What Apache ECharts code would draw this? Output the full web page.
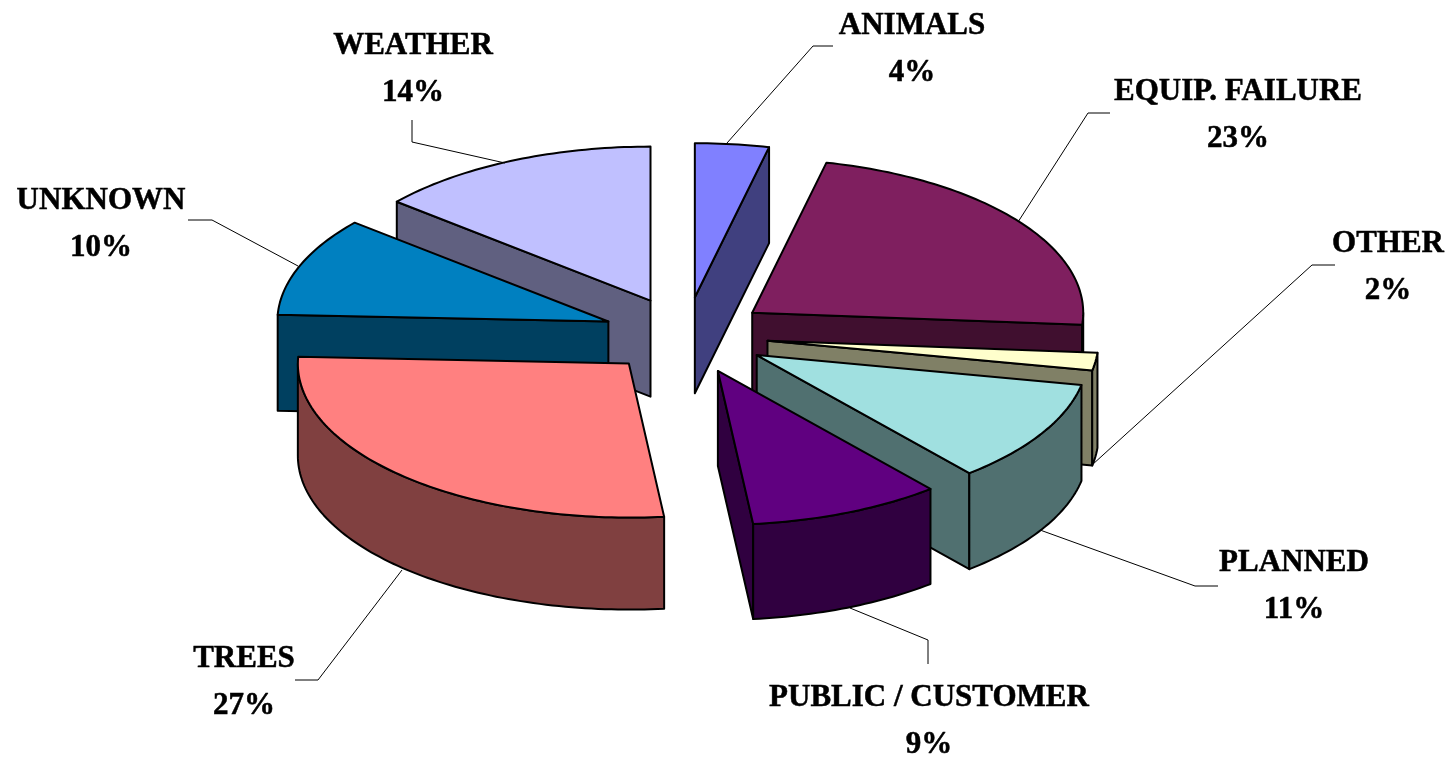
<!DOCTYPE html>
<html>
<head>
<meta charset="utf-8">
<style>html,body{margin:0;padding:0;background:#fff}#c{width:1453px;height:758px}</style>
<script src="https://cdn.jsdelivr.net/npm/echarts@6/dist/echarts.min.js"></script>
</head>
<body>
<div id="c"></div>
<script>
// Data, clockwise from 12 o'clock
var categories = ['ANIMALS', 'EQUIP. FAILURE', 'OTHER', 'PLANNED', 'PUBLIC / CUSTOMER', 'TREES', 'UNKNOWN', 'WEATHER'];
var shares = [3.6, 22.65, 1.85, 10.8, 9.4, 27.4, 10.4, 13.9];

// Styles and layout, separate from the data
var topColors = ['#8080ff', '#7f1f5f', '#ffffcc', '#a0e0e0', '#600080', '#ff8080', '#0080c0', '#c0c0ff'];
var sideColors = ['#40407f', '#400f2f', '#808066', '#507070', '#300040', '#804040', '#004060', '#606080'];
var depths = [96, 95, 95, 96, 95, 92, 96, 96];
var paintOrder = [7, 6, 5, 0, 1, 2, 3, 4];
var labelCenters = [[912, 49], [1238, 115], [1388, 267], [1294, 586], [929, 721], [244, 682], [101, 224], [413, 69]];
var leaders = [
  [[833, 46], [813, 46], [727, 143]],
  [[1110, 113], [1088, 113], [1018, 222]],
  [[1335, 265], [1312, 265], [1092, 465]],
  [[1218, 586], [1195, 586], [1040, 530]],
  [[928, 664], [928, 640], [850, 608]],
  [[295, 680], [318, 680], [402, 570]],
  [[188, 220], [212, 220], [298, 266]],
  [[412, 120], [412, 142], [505, 163]]
];
var geo = { cx: 685.5, cy: 335.5, rx: 331, ry: 154, explode: 0.25, line: 2 };

var total = shares.reduce(function (a, b) { return a + b; }, 0);
var starts = [];
shares.reduce(function (acc, v, i) { starts[i] = acc; return acc + v; }, 0);

function ang(p) { return p / total * 2 * Math.PI; }
function rim(o, a) { return [o[0] + geo.rx * Math.sin(a), o[1] - geo.ry * Math.cos(a)]; }
function arcPts(o, a0, a1) {
  var pts = [], n = Math.max(2, Math.ceil((a1 - a0) / 0.02));
  for (var i = 0; i <= n; i++) pts.push(rim(o, a0 + (a1 - a0) * i / n));
  return pts;
}

function poly(pts, fill, z) {
  return {
    type: 'polygon', z2: z, shape: { points: pts },
    style: { fill: fill, stroke: '#000', lineWidth: geo.line, lineJoin: 'round' }
  };
}

function renderSlice(params, api) {
  var idx = paintOrder[params.dataIndex];
  var value = api.value(0);
  var a0 = ang(starts[idx]), a1 = a0 + ang(value), mid = (a0 + a1) / 2;
  var apex = [geo.cx + geo.explode * geo.rx * Math.sin(mid), geo.cy - geo.explode * geo.ry * Math.cos(mid)];
  var kids = [], z = params.dataIndex * 10;
  var side = sideColors[idx], top = topColors[idx], d = depths[idx];
  function drop(pts) { return pts.map(function (p) { return [p[0], p[1] + d]; }); }

  function wall(a) {
    var e = rim(apex, a);
    kids.push(poly([apex, e].concat(drop([e, apex])), side, z + 1));
  }
  if (Math.sin(a0) < 0) wall(a0);
  if (Math.sin(a1) > 0) wall(a1);

  var f0 = Math.max(a0, Math.PI / 2), f1 = Math.min(a1, 3 * Math.PI / 2);
  if (f1 > f0) {
    var arc = arcPts(apex, f0, f1);
    kids.push(poly(arc.concat(drop(arc).reverse()), side, z + 2));
  }
  kids.push(poly([apex].concat(arcPts(apex, a0, a1)), top, z + 3));
  return { type: 'group', children: kids };
}

function renderNote(params, api) {
  var i = params.dataIndex;
  var c = labelCenters[i];
  return {
    type: 'group',
    children: [
      { type: 'polyline', z2: 200, shape: { points: leaders[i] }, style: { fill: null, stroke: '#000', lineWidth: 1 } },
      {
        type: 'text', z2: 201, x: c[0], y: c[1],
        style: {
          text: categories[i] + '\n' + Math.round(api.value(0)) + '%',
          font: 'bold 31px "Liberation Serif", serif', fill: '#000',
          stroke: '#000', lineWidth: 0.5,
          align: 'center', verticalAlign: 'middle', lineHeight: 47
        }
      }
    ]
  };
}

var chart = echarts.init(document.getElementById('c'), null, { renderer: 'canvas' });
chart.setOption({
  animation: false,
  backgroundColor: '#fff',
  series: [
    {
      type: 'custom', coordinateSystem: 'none', silent: true, clip: false,
      renderItem: renderSlice,
      encode: { value: 0 },
      data: paintOrder.map(function (i) { return { name: categories[i], value: [shares[i]] }; })
    },
    {
      type: 'custom', coordinateSystem: 'none', silent: true, clip: false, z: 5,
      renderItem: renderNote,
      encode: { value: 0 },
      data: categories.map(function (n, i) { return { name: n, value: [shares[i]] }; })
    }
  ]
});
</script>
</body>
</html>
